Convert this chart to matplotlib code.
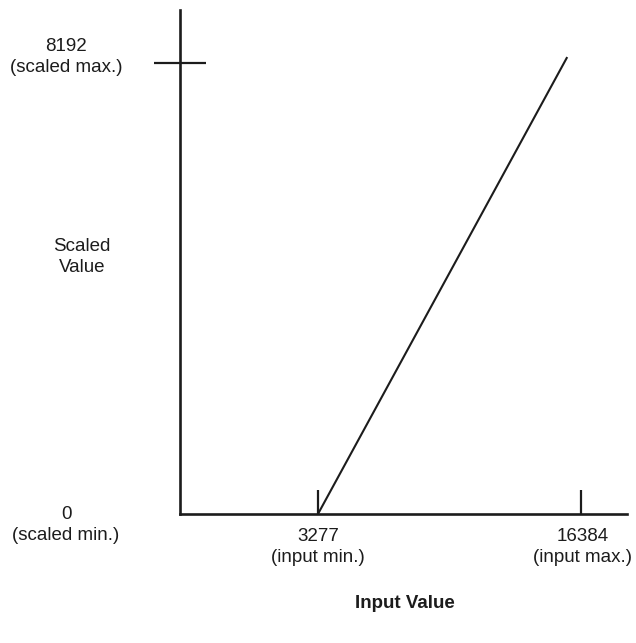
import matplotlib
matplotlib.use("Agg")
import matplotlib.pyplot as plt
from matplotlib import font_manager

# ---- data ----
input_ticks = [3277, 16384]
input_tick_labels = ["3277\n(input min.)", "16384\n(input max.)"]
scaled_ticks = [8192]
scaled_top_label = "8192\n(scaled max.)"
scaled_bottom_label = "0\n(scaled min.)"
line_x = [3277, 15700]
line_y = [0, 8300]

names = {f.name for f in font_manager.fontManager.ttflist}
fam = ["Liberation Sans Narrow"] if "Liberation Sans Narrow" in names else ["Liberation Sans"]
plt.rcParams["font.family"] = fam + ["DejaVu Sans"]

W, H = 636, 643
fig = plt.figure(figsize=(W / 100, H / 100), dpi=100)
ax = fig.add_axes([180 / W, 1 - 514 / H, 447 / W, 504 / H])
ax.set_xlim(-3600, 18680)
ax.set_ylim(0, 9155)

ink = "#1c1c1c"
ax.plot(line_x, line_y, color=ink, lw=1.5, solid_capstyle="butt")

for s in ["top", "right"]:
    ax.spines[s].set_visible(False)
for s in ["left", "bottom"]:
    ax.spines[s].set_linewidth(1.9)
    ax.spines[s].set_color(ink)

ax.set_xticks(input_ticks)
ax.set_xticklabels([])
ax.tick_params(axis="x", direction="in", length=17, width=1.6, color=ink)
ax.set_yticks(scaled_ticks)
ax.set_yticklabels([])
ax.tick_params(axis="y", direction="inout", length=37, width=1.6, color=ink)

fs = 13.5
def ftext(px, py, s, **kw):
    fig.text(px / W, 1 - py / H, s, ha="center", va="center", fontsize=fs,
             linespacing=1.3, color=ink, **kw)

ftext(66, 57, scaled_top_label)
ftext(66, 525, scaled_bottom_label)
ftext(82, 257, "Scaled\nValue")
for x, lab in zip(input_ticks, input_tick_labels):
    px = ax.transData.transform((x, 0))[0]
    if x == input_ticks[-1]:
        px += 2
    ftext(px, 547, lab)
ftext(405, 603, "Input Value", fontweight="bold")

fig.savefig("out.png", dpi=100, facecolor="white")
